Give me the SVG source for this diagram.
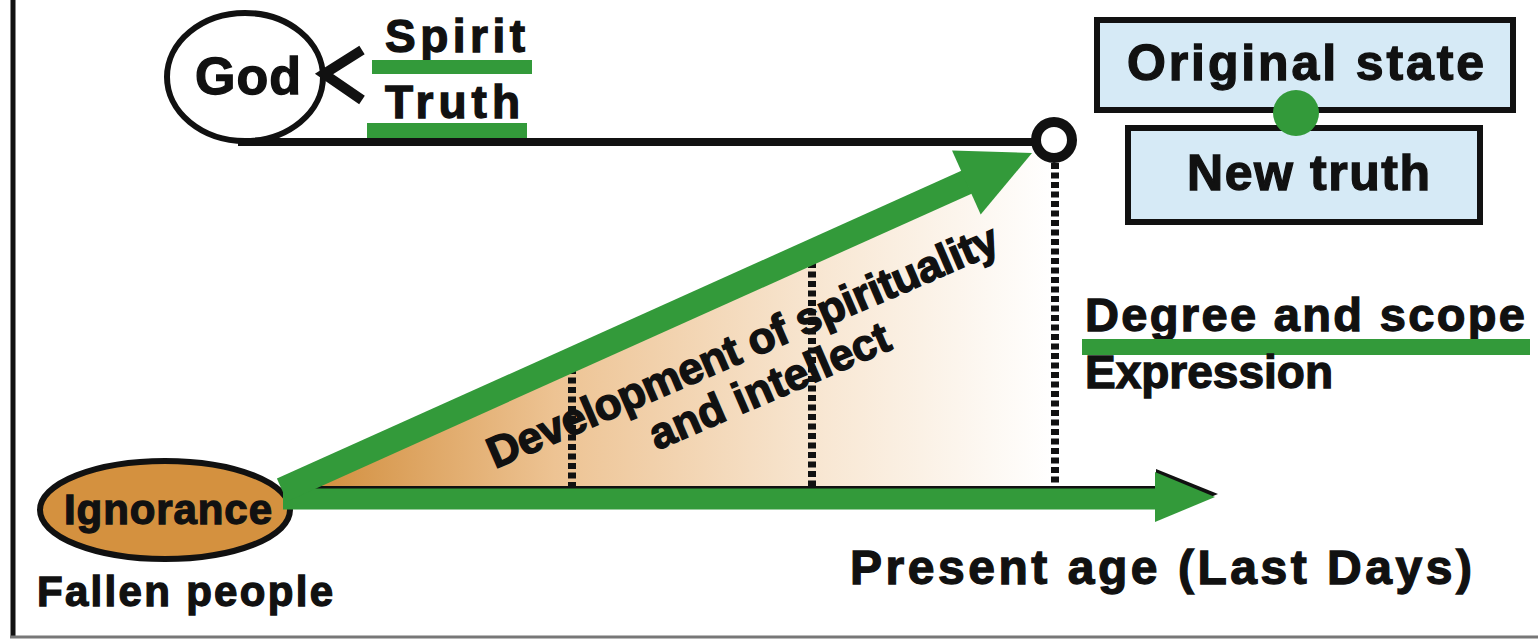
<svg xmlns="http://www.w3.org/2000/svg" width="1538" height="640" viewBox="0 0 1538 640">
<defs>
<linearGradient id="grad" x1="285" y1="0" x2="1055" y2="0" gradientUnits="userSpaceOnUse">
<stop offset="0" stop-color="#cf8833"/>
<stop offset="0.35" stop-color="#edc393"/>
<stop offset="0.7" stop-color="#f8e7d3"/>
<stop offset="1" stop-color="#ffffff"/>
</linearGradient>
<style>
.t{font-family:"Liberation Sans",Arial,sans-serif;font-weight:bold;fill:#111;stroke:#111;stroke-width:1.3}
.diag{font-family:"Liberation Sans",Arial,sans-serif;font-weight:bold;fill:#111;stroke:#111;stroke-width:1.4}
.gbar{fill:#339a3a}
.box{fill:#d6eaf6;stroke:#111;stroke-width:6}
</style>
</defs>
<rect x="0" y="0" width="1538" height="640" fill="#fff"/>
<line x1="13" y1="0" x2="13" y2="638" stroke="#111" stroke-width="5"/>
<line x1="10" y1="637" x2="1538" y2="637" stroke="#777" stroke-width="3"/>

<g id="area">
<polygon points="285,487 1032,153 1055,165 1055,487" fill="url(#grad)"/>
</g>

<g id="dotlines" stroke="#111" stroke-width="8" stroke-dasharray="6 3.5" fill="none">
<line x1="572" y1="368" x2="572" y2="486"/>
<line x1="812" y1="262" x2="812" y2="486"/>
<line x1="1055" y1="163" x2="1055" y2="486"/>
</g>

<g id="god">
<line x1="238" y1="142" x2="1036" y2="142" stroke="#111" stroke-width="8"/>
<ellipse cx="245" cy="77" rx="78" ry="64" fill="#fff" stroke="#111" stroke-width="6"/>
<text class="t" x="195" y="94" font-size="52" textLength="106" lengthAdjust="spacing">God</text>
<polyline points="362,50 324,74 362,100" fill="none" stroke="#111" stroke-width="10"/>
</g>

<g id="spirit">
<text class="t" x="385" y="52" font-size="46" textLength="140" lengthAdjust="spacing">Spirit</text>
<rect class="gbar" x="372" y="60" width="160" height="14"/>
</g>

<g id="truth">
<text class="t" x="385" y="118" font-size="46" textLength="135" lengthAdjust="spacing">Truth</text>
<rect class="gbar" x="367" y="123" width="160" height="15"/>
</g>

<g id="endpoint">
<circle cx="1054" cy="140" r="18" fill="#fff" stroke="#111" stroke-width="10"/>
</g>

<g id="original-state">
<rect class="box" x="1097" y="20" width="416" height="90"/>
<text class="t" x="1127" y="80" font-size="50" textLength="357" lengthAdjust="spacing">Original state</text>
</g>

<g id="new-truth">
<rect class="box" x="1128" y="128" width="352" height="94"/>
<text class="t" x="1187" y="190" font-size="50" textLength="243" lengthAdjust="spacing">New truth</text>
</g>

<g id="link-dot">
<circle cx="1296" cy="113" r="23" fill="#339a3a"/>
</g>

<g id="degree">
<text class="t" x="1085" y="331" font-size="47" textLength="440" lengthAdjust="spacing">Degree and scope</text>
<rect class="gbar" x="1082" y="339" width="448" height="16"/>
<text class="t" x="1085" y="388" font-size="46" textLength="248" lengthAdjust="spacing">Expression</text>
</g>

<g id="ignorance">
<ellipse cx="165" cy="510" rx="125" ry="49" fill="#d4913f" stroke="#111" stroke-width="6"/>
<text class="t" x="64" y="524" font-size="42" textLength="208" lengthAdjust="spacing">Ignorance</text>
</g>

<g id="fallen">
<text class="t" x="37" y="606" font-size="42" textLength="296" lengthAdjust="spacing">Fallen people</text>
</g>

<g id="present-age">
<text class="t" x="850" y="584" font-size="48" textLength="622" lengthAdjust="spacing">Present age (Last Days)</text>
</g>

<g id="connectors">
<line x1="290" y1="488" x2="1156" y2="488" stroke="#111" stroke-width="4"/>
<line x1="283" y1="499" x2="1158" y2="499" stroke="#339a3a" stroke-width="21"/>
<polygon points="1156,469 1218,494 1156,519" fill="#111"/>
<polygon points="1155,472 1215,497 1155,522" fill="#339a3a"/>
<line x1="282" y1="490" x2="967" y2="182" stroke="#339a3a" stroke-width="25"/>
<polygon points="1032,153 952,150.6 980.7,214.4" fill="#339a3a"/>
</g>

<g id="development" transform="translate(495,469) rotate(-23.3)">
<text class="diag" x="0" y="0" font-size="44" textLength="552" lengthAdjust="spacing">Development of spirituality</text>
<text class="diag" x="156" y="47" font-size="44" textLength="258" lengthAdjust="spacing">and intellect</text>
</g>
</svg>
